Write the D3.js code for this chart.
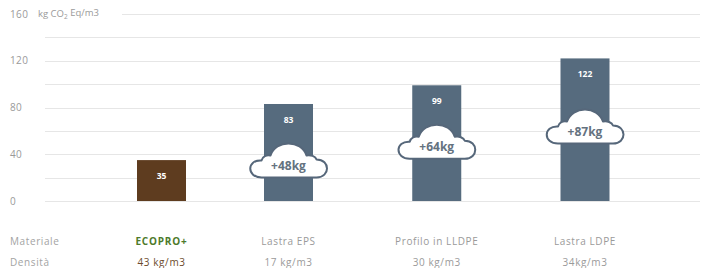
<!DOCTYPE html>
<html>
<head>
<meta charset="utf-8">
<script src="https://cdn.jsdelivr.net/npm/d3@7/dist/d3.min.js"></script>
<style>
  html, body { margin: 0; padding: 0; background: #fff; }
  svg { display: block; font-family: "Open Sans", Lato, sans-serif; }
</style>
</head>
<body>
<svg id="chart" width="708" height="268"></svg>
<script>
// ---- data ----
const categories = ["ECOPRO+", "Lastra EPS", "Profilo in LLDPE", "Lastra LDPE"];
const values = [35, 83, 99, 122];
const densities = ["43 kg/m3", "17 kg/m3", "30 kg/m3", "34kg/m3"];
const extraLabels = [null, "+48kg", "+64kg", "+87kg"];
const cloudAnchors = [null, 33, 49, 62];   // value level where the cloud sits
const yTicks = [0, 20, 40, 60, 80, 100, 120, 140, 160];
const yTickLabels = ["0", "", "40", "", "80", "", "120", "", "160"];
const barColors = ["#5e3c1f", "#566b7e", "#566b7e", "#566b7e"];

const svg = d3.select("#chart");

const y = d3.scaleLinear().domain([0, 160]).range([201, 14]);
// ECOPRO+ column stands apart from the three compared materials
const xIdx = d3.scaleLinear().domain([0, 1, 3]).range([161.5, 288.5, 585]);
const barW = 49;
const cx = (d, i) => xIdx(i);

// gridlines
svg.append("g").selectAll("line").data(yTicks).join("line")
  .attr("x1", d => d === 160 ? 122 : 45)
  .attr("x2", 700)
  .attr("y1", d => Math.round(y(d)) + 0.5)
  .attr("y2", d => Math.round(y(d)) + 0.5)
  .attr("stroke", "#e6e6e6").attr("stroke-width", 1);

// tick labels
svg.append("g").selectAll("text").data(yTicks).join("text")
  .attr("x", 10).attr("y", d => y(d))
  .attr("dy", "0.35em")
  .attr("font-size", 10).attr("letter-spacing", 0.4).attr("fill", "#9a9a9a")
  .text((d, i) => yTickLabels[i]);

// axis title
const title = svg.append("text").attr("x", 38).attr("y", y(160)).attr("dy", "0.35em")
  .attr("font-size", 9.5).attr("fill", "#9a9a9a");
title.append("tspan").text("kg CO");
title.append("tspan").attr("font-size", 6.5).attr("dy", "0.3em").text("2");
title.append("tspan").attr("dy", "-0.3em").text(" Eq/m3");

// bars
svg.append("g").selectAll("rect").data(categories).join("rect")
  .attr("x", (d, i) => cx(d, i) - barW / 2)
  .attr("y", (d, i) => y(values[i]))
  .attr("width", barW)
  .attr("height", (d, i) => y(0) - y(values[i]))
  .attr("fill", (d, i) => barColors[i]);

// value labels
svg.append("g").selectAll("text").data(categories).join("text")
  .attr("x", cx)
  .attr("y", (d, i) => y(values[i]) + 16)
  .attr("dy", "0.35em")
  .attr("text-anchor", "middle")
  .attr("font-size", 8.5).attr("font-weight", "bold").attr("fill", "#fff")
  .text((d, i) => values[i]);

// clouds
const cloudPath = "M -27 15 C -42 15, -42 -3, -27 -2 C -26 -6, -22 -8, -18 -7 " +
  "C -13 -23, 13 -23, 18 -7 C 22 -8, 27 -6, 28 -3 C 42 -3, 42 15, 28 15 Z";
const clouds = svg.append("g").selectAll("g")
  .data(categories.map((c, i) => ({ c, i })).filter(d => extraLabels[d.i]))
  .join("g")
  .attr("transform", d => `translate(${xIdx(d.i)},${y(cloudAnchors[d.i])})`);
clouds.append("path").attr("d", cloudPath)
  .attr("fill", "#fff").attr("stroke", "#56677a").attr("stroke-width", 2)
  .attr("stroke-linejoin", "round");
clouds.append("text").attr("x", 0).attr("y", 3).attr("dy", "0.35em")
  .attr("text-anchor", "middle")
  .attr("font-size", 12).attr("font-weight", "bold").attr("fill", "#64727f")
  .text(d => extraLabels[d.i]);

// bottom rows
svg.append("text").attr("x", 10).attr("y", 241).attr("dy", "0.35em")
  .attr("font-size", 10).attr("letter-spacing", 0.6).attr("fill", "#a3a3a3").text("Materiale");
svg.append("text").attr("x", 10).attr("y", 262).attr("dy", "0.35em")
  .attr("font-size", 10).attr("letter-spacing", 0.6).attr("fill", "#a3a3a3").text("Densità");

svg.append("g").selectAll("text").data(categories).join("text")
  .attr("x", cx)
  .attr("y", 241).attr("dy", "0.35em")
  .attr("text-anchor", "middle")
  .attr("font-size", 10)
  .attr("letter-spacing", (d, i) => i === 0 ? 0.8 : 0.6)
  .attr("font-weight", (d, i) => i === 0 ? "bold" : "normal")
  .attr("fill", (d, i) => i === 0 ? "#4d7a2b" : "#9a9a9a")
  .text(d => d);

svg.append("g").selectAll("text").data(categories).join("text")
  .attr("x", cx)
  .attr("y", 262).attr("dy", "0.35em")
  .attr("text-anchor", "middle")
  .attr("font-size", 10).attr("letter-spacing", 0.6)
  .attr("fill", (d, i) => i === 0 ? "#6b4a2c" : "#9a9a9a")
  .text((d, i) => densities[i]);
</script>
</body>
</html>
